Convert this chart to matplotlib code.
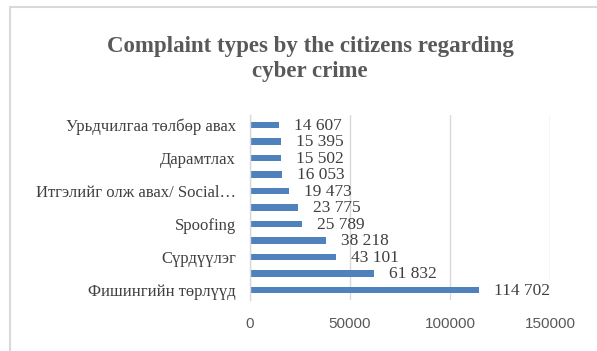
import matplotlib
matplotlib.use("Agg")
import matplotlib.pyplot as plt
from matplotlib.patches import Rectangle

# ── Palette ────────────────────────────────────────────────────────────────
BAR    = "#4F81BD"
TITLE  = "#595959"
TEXT   = "#404040"
TICK   = "#595959"
GRID   = "#D9D9D9"
SERIF  = ["Liberation Serif", "DejaVu Serif"]
SANS   = ["Liberation Sans", "DejaVu Sans"]

# bottom to top
categories = [
    "Фишингийн төрлүүд", "", "Сүрдүүлэг", "", "Spoofing", "",
    "Итгэлийг олж авах/ Social…", "", "Дарамтлах", "",
    "Урьдчилгаа төлбөр авах",
]
counts = [114702, 61832, 43101, 38218, 25789, 23775,
          19473, 16053, 15502, 15395, 14607]
xticks = [0, 50000, 100000, 150000]

fig = plt.figure(figsize=(5.97, 3.51), dpi=100)
fig.patch.set_facecolor("white")

# chart frame, runs off the right and bottom edges
fig.patches.append(Rectangle((10 / 597, -0.1), 1.0, 1 - 7 / 351 + 0.1,
                             transform=fig.transFigure, fill=False,
                             edgecolor=GRID, linewidth=1.5))

ax = fig.add_axes([250 / 597, 1 - 300 / 351, 300 / 597, 185 / 351])
pos = list(range(len(counts)))
ax.barh(pos, counts, height=0.4, color=BAR, zorder=3)

for y, v in zip(pos, counts):
    ax.text(v + 7500, y - 0.05, f"{v:,}".replace(",", " "),
            ha="left", va="center", fontsize=12.5, color=TEXT,
            family=SERIF, zorder=4)

ax.set_xlim(0, 150000)
ax.set_ylim(-0.6, 10.6)
ax.set_xticks(xticks)
ax.set_xticklabels([str(t) for t in xticks], family=SANS,
                   fontsize=11, color=TICK)
ax.set_yticks(pos)
ax.set_yticklabels(categories, family=SERIF, fontsize=12, color=TEXT)
ax.tick_params(axis="x", length=0, pad=12)
ax.tick_params(axis="y", length=0, pad=10)

ax.xaxis.grid(True, color=GRID, linewidth=1, zorder=0)
ax.set_axisbelow(True)
for s in ["top", "right", "bottom"]:
    ax.spines[s].set_visible(False)
ax.spines["left"].set_color(GRID)
ax.spines["left"].set_linewidth(1)
ax.spines["left"].set_zorder(5)

fig.text(310 / 597, 1 - 59 / 351,
         "Complaint types by the citizens regarding\ncyber crime",
         ha="center", va="center", fontsize=16.5, fontweight="bold",
         color=TITLE, family=SERIF, linespacing=1.3)

fig.savefig("out.png", dpi=100, facecolor=fig.get_facecolor())
